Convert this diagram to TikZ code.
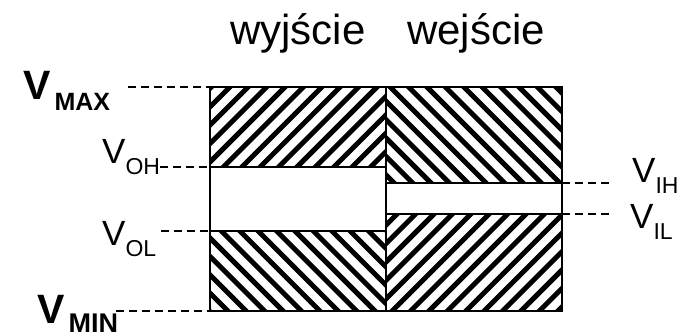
\documentclass[tikz,border=0pt]{standalone}
\usepackage{fontspec}
\setmainfont{Liberation Sans}
\tikzset{
  stripe/.style={line width=5pt},
  level/.style={dash pattern=on 8pt off 5pt, line width=1.3pt},
  box/.style={line width=2pt},
  lab/.style={anchor=base west, inner sep=0pt},
}
% thin label: V with subscript
\newcommand{\volt}[1]{{\fontsize{35}{35}\selectfont V}\raisebox{-11pt}{\fontsize{23}{23}\selectfont #1}}
% bold label: V with subscript (name, drop, size)
\newcommand{\bvolt}[3]{{\bfseries\fontsize{41}{41}\selectfont V\kern4pt\raisebox{-#2pt}{\fontsize{#3}{#3}\selectfont #1}}}
% hatching, to be clipped
\newcommand{\hatchrise}{\foreach \s in {0,...,34} \draw[stripe] (-40+\s*18.4,320) -- ++(240,-240);}
\newcommand{\hatchfall}{\foreach \s in {0,...,34} \draw[stripe] (-40+\s*18.4,80) -- ++(240,240);}
\begin{document}
\begin{tikzpicture}[x=1pt, y=-1pt]
      \useasboundingbox (0,0) rectangle (677,334);

      % Hatched areas (forbidden levels)
      \begin{scope}
        \clip (210,87) rectangle (386,167);
        \hatchrise
      \end{scope}
      \begin{scope}
        \clip (210,231) rectangle (386,311);
        \hatchfall
      \end{scope}
      \begin{scope}
        \clip (386,87) rectangle (562,183);
        \hatchfall
      \end{scope}
      \begin{scope}
        \clip (386,214) rectangle (562,311);
        \hatchrise
      \end{scope}

      % Outline
      \draw[box] (210,87) rectangle (562,311);
      \draw[box] (386,87) -- (386,311);
      \draw[box] (210,167) -- (386,167);
      \draw[box] (210,231) -- (386,231);
      \draw[box] (386,183) -- (562,183);
      \draw[box] (386,214) -- (562,214);

      % Dashed lines (levels)
      \draw[level] (128,87) -- (210,87);
      \draw[level] (160,167) -- (210,167);
      \draw[level] (161,231) -- (210,231);
      \draw[level] (116,311) -- (210,311);
      \draw[level] (562,183) -- (610,183);
      \draw[level] (562,214) -- (610,214);

      % Labels
      \node[lab, font=\fontsize{42}{42}\selectfont] (out) at (230,45) {wyjście};
      \node[lab, font=\fontsize{42}{42}\selectfont] (in) at (407,45) {wejście};
      \node[lab] (vmax) at (23,100) {\bvolt{MAX}{10}{25}};
      \node[lab] (vmin) at (37,323) {\bvolt{MIN}{9}{27}};
      \node[lab] (voh) at (102,163) {\volt{OH}};
      \node[lab] (vol) at (102,245) {\volt{OL}};
      \node[lab] (vih) at (632,182) {\volt{IH}};
      \node[lab] (vil) at (630,228) {\volt{IL}};
    \end{tikzpicture}
\end{document}
